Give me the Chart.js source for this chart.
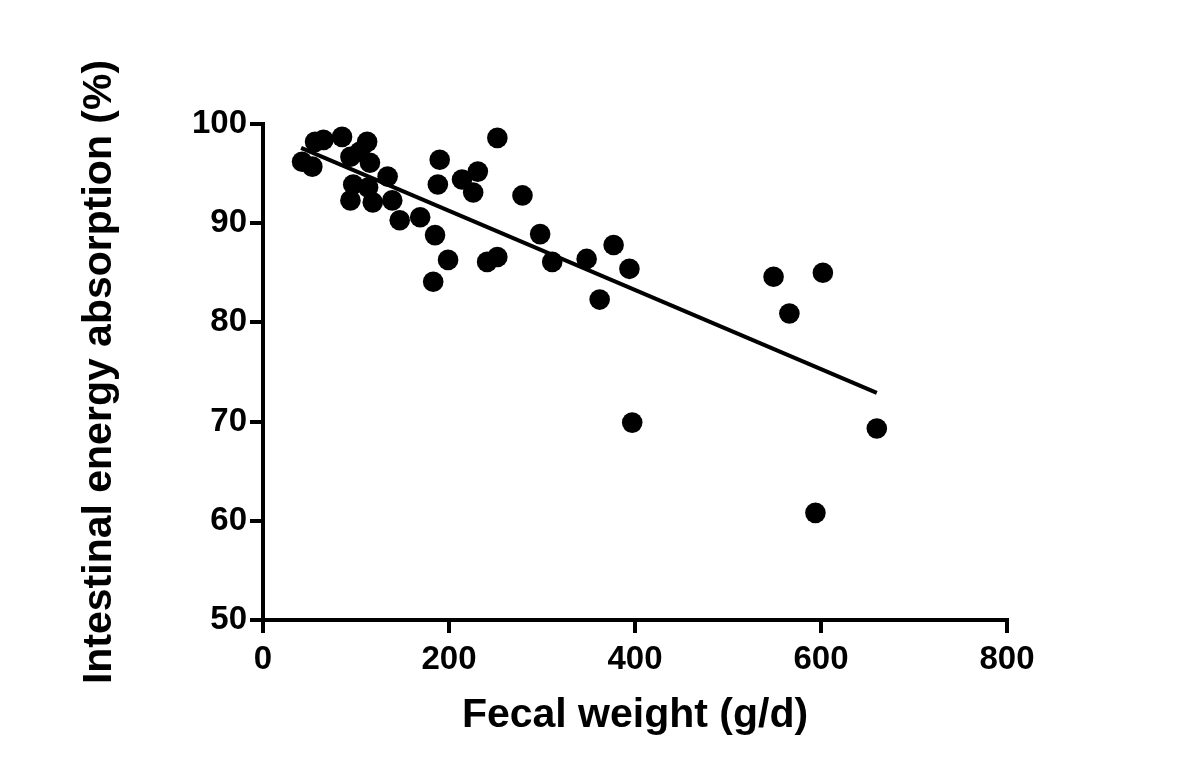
<!DOCTYPE html>
<html>
<head>
<meta charset="utf-8">
<script src="https://cdn.jsdelivr.net/npm/chart.js@4.4.0/dist/chart.umd.min.js"></script>
<style>
  html, body { margin: 0; padding: 0; background: #fff; }
  #wrap { width: 1200px; height: 763px; }
</style>
</head>
<body>
<div id="wrap"><canvas id="myChart" width="1200" height="763"></canvas></div>
<script>
// fecal weight (g/d) and energy absorption (%) per subject
var fecalWeight = [42, 53, 56, 65, 85, 94, 104, 112, 115, 97, 94, 113, 118, 134, 139,
  147, 169, 185, 190, 188, 199, 183, 214, 231, 226, 241, 252, 252, 279, 298,
  311, 348, 377, 362, 394, 397, 549, 566, 602, 594, 660];
var absorption = [96.2, 95.7, 98.2, 98.4, 98.7, 96.7, 97.2, 98.2, 96.1, 93.9, 92.3, 93.6, 92.1, 94.7, 92.3,
  90.3, 90.6, 88.8, 96.4, 93.9, 86.3, 84.1, 94.4, 95.2, 93.1, 86.1, 86.6, 98.6, 92.8, 88.9,
  86.1, 86.4, 87.8, 82.3, 85.4, 69.9, 84.6, 80.9, 85.0, 60.8, 69.3];

// regression line end points
var fitX = [41, 660];
var fitY = [97.6, 72.9];

var xTicks = [0, 200, 400, 600, 800];
var yTicks = [50, 60, 70, 80, 90, 100];

var points = fecalWeight.map(function (x, i) { return { x: x, y: absorption[i] }; });
var fitLine = fitX.map(function (x, i) { return { x: x, y: fitY[i] }; });

var tickFont = { family: "'Liberation Sans', Arial, sans-serif", size: 33, weight: 'bold' };
var titleFont = { family: "'Liberation Sans', Arial, sans-serif", size: 41, weight: 'bold' };

new Chart("myChart", {
  type: "scatter",
  data: {
    datasets: [{
      data: points,
      backgroundColor: "#000",
      borderColor: "#000",
      pointRadius: 10.3,
      pointHoverRadius: 10.3,
      borderWidth: 0
    }, {
      type: "line",
      data: fitLine,
      borderColor: "#000",
      borderWidth: 4,
      pointRadius: 0,
      fill: false
    }]
  },
  options: {
    responsive: false,
    animation: false,
    devicePixelRatio: 1,
    layout: { padding: { top: 124, right: 193, bottom: 0, left: 0 } },
    plugins: {
      legend: { display: false },
      tooltip: { enabled: false }
    },
    scales: {
      x: {
        type: "linear",
        min: 0,
        max: 800,
        afterFit: function (s) { s.height = 143; },
        afterBuildTicks: function (s) { s.ticks = xTicks.map(function (v) { return { value: v }; }); },
        border: { display: true, color: "#000", width: 4 },
        grid: { display: true, drawOnChartArea: false, drawTicks: true, tickLength: 13, lineWidth: 4, color: "#000" },
        ticks: { color: "#000", font: tickFont, padding: 7, maxRotation: 0 },
        title: { display: true, text: "Fecal weight (g/d)", color: "#000", font: titleFont, padding: { top: 0, bottom: 23 } }
      },
      y: {
        type: "linear",
        min: 50,
        max: 100,
        afterFit: function (s) { s.width = 263; },
        afterBuildTicks: function (s) { s.ticks = yTicks.map(function (v) { return { value: v }; }); },
        border: { display: true, color: "#000", width: 4 },
        grid: { display: true, drawOnChartArea: false, drawTicks: true, tickLength: 13, lineWidth: 4, color: "#000" },
        ticks: { color: "#000", font: tickFont, padding: 3 },
        title: { display: true, text: "Intestinal energy absorption (%)", color: "#000", font: titleFont, padding: { top: 75, bottom: 0 } }
      }
    }
  }
});
</script>
</body>
</html>
